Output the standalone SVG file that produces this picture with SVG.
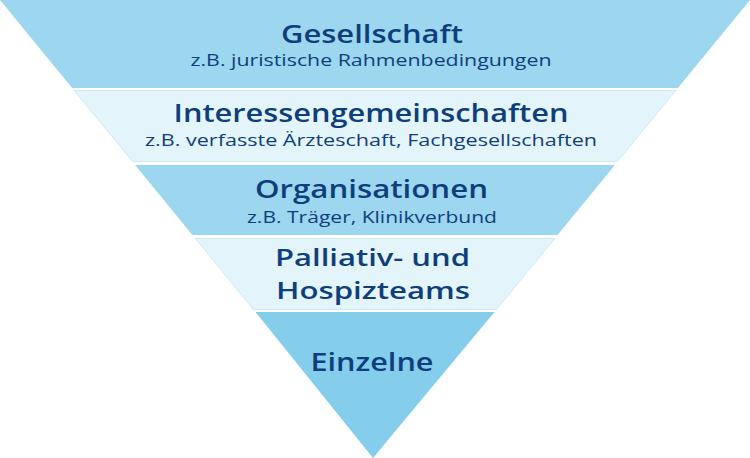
<svg xmlns="http://www.w3.org/2000/svg" width="750" height="458" viewBox="0 0 750 458">
<style>
.mid{fill:#9dd6ef}
.low{fill:#84cdeb}
.light{fill:#e4f4fb;stroke:#cdeaf7;stroke-width:1}
.t{font-family:"Open Sans","Noto Sans",sans-serif;font-weight:600;font-size:26px;fill:#0e3f7c;text-anchor:middle}
.t2{font-size:24px}
.s{font-family:"Open Sans","Noto Sans",sans-serif;font-weight:400;font-size:17px;fill:#0e3f7c;text-anchor:middle}
</style>
<rect width="750" height="458" fill="#ffffff"/>
<g id="gesellschaft">
<polygon class="mid" points="0,0 750,0 677.9,88 72.1,88"/>
<text class="t" x="372" y="43" textLength="182" lengthAdjust="spacingAndGlyphs">Gesellschaft</text>
<text class="s" x="371" y="66" textLength="361" lengthAdjust="spacingAndGlyphs">z.B. juristische Rahmenbedingungen</text>
</g>
<g id="interessengemeinschaften">
<polygon class="light" points="74.2,90.5 675.8,90.5 617.4,161.5 132.6,161.5"/>
<text class="t" x="371" y="122" textLength="395" lengthAdjust="spacingAndGlyphs">Interessengemeinschaften</text>
<text class="s" x="371" y="146" textLength="452" lengthAdjust="spacingAndGlyphs">z.B. verfasste Ärzteschaft, Fachgesellschaften</text>
</g>
<g id="organisationen">
<polygon class="mid" points="135.1,165 614.9,165 557.6,235 192.4,235"/>
<text class="t" x="371.5" y="198" textLength="233" lengthAdjust="spacingAndGlyphs">Organisationen</text>
<text class="s" x="372" y="223" textLength="250" lengthAdjust="spacingAndGlyphs">z.B. Träger, Klinikverbund</text>
</g>
<g id="teams">
<polygon class="light" points="195.3,238.5 554.7,238.5 496.6,309.5 253.4,309.5"/>
<text class="t t2" x="372.5" y="266" textLength="195" lengthAdjust="spacingAndGlyphs">Palliativ- und</text>
<text class="t t2" x="373" y="299" textLength="194" lengthAdjust="spacingAndGlyphs">Hospizteams</text>
</g>
<g id="einzelne">
<polygon class="low" points="255.5,312 494.5,312 373,458"/>
<text class="t" x="372" y="371" textLength="123" lengthAdjust="spacingAndGlyphs">Einzelne</text>
</g>
<g id="connectors"></g>
</svg>
